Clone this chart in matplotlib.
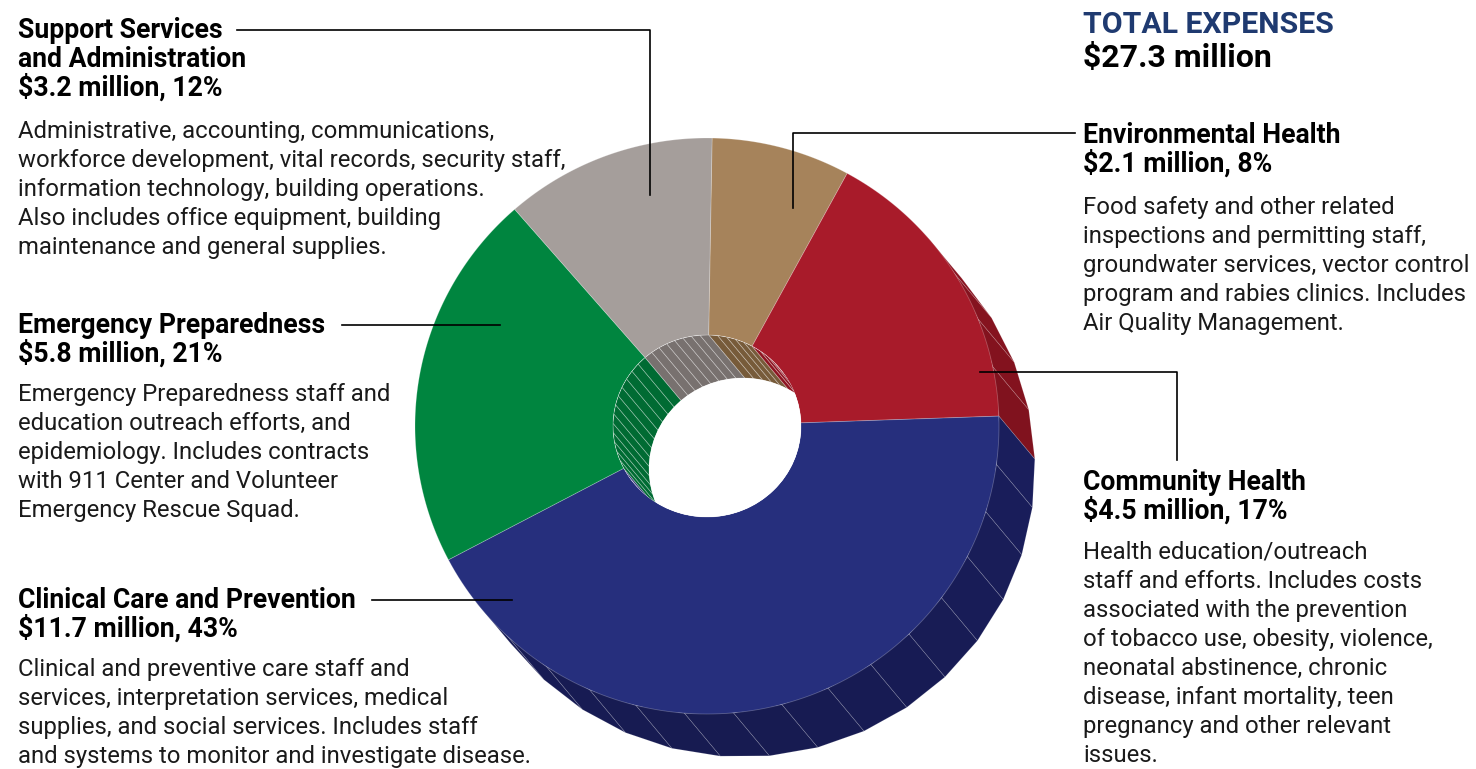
import numpy as np
import matplotlib.pyplot as plt
from matplotlib.patches import Polygon, Ellipse
from matplotlib.colors import to_rgb

# slice data, clockwise from the top
names = ['Environmental Health', 'Community Health', 'Clinical Care and Prevention',
         'Emergency Preparedness', 'Support Services and Administration']
millions = [2.1, 4.5, 11.7, 5.8, 3.2]
percents = [8, 17, 43, 21, 12]
top_colors = ['#A6835B', '#A81B2A', '#262F7D', '#00853F', '#A59E9B']
side_colors = ['#775B3A', '#8E1421', '#1D2268', '#006B33', '#78716F']

header_lines = {
    'support': ['Support Services', 'and Administration', '$3.2 million, 12%'],
    'emergency': ['Emergency Preparedness', '$5.8 million, 21%'],
    'clinical': ['Clinical Care and Prevention', '$11.7 million, 43%'],
    'environ': ['Environmental Health', '$2.1 million, 8%'],
    'community': ['Community Health', '$4.5 million, 17%'],
}
body_lines = {
    'support': ['Administrative, accounting, communications,',
                'workforce development, vital records, security staff,',
                'information technology, building operations.',
                'Also includes office equipment, building',
                'maintenance and general supplies.'],
    'emergency': ['Emergency Preparedness staff and',
                  'education outreach efforts, and',
                  'epidemiology. Includes contracts',
                  'with 911 Center and Volunteer',
                  'Emergency Rescue Squad.'],
    'clinical': ['Clinical and preventive care staff and',
                 'services, interpretation services, medical',
                 'supplies, and social services. Includes staff',
                 'and systems to monitor and investigate disease.'],
    'environ': ['Food safety and other related',
                'inspections and permitting staff,',
                'groundwater services, vector control',
                'program and rabies clinics. Includes',
                'Air Quality Management.'],
    'community': ['Health education/outreach',
                  'staff and efforts. Includes costs',
                  'associated with the prevention',
                  'of tobacco use, obesity, violence,',
                  'neonatal abstinence, chronic',
                  'disease, infant mortality, teen',
                  'pregnancy and other relevant',
                  'issues.'],
}
total_title = 'TOTAL EXPENSES'
total_value = '$27.3 million'

# donut geometry (pixel coordinates, y down)
CX, CY = 707, 426
RX, RY = 292, 288
HRX, HRY = 94, 91
OFF = np.array([36, 43])
START = 89

plt.rcParams['font.family'] = ['Roboto', 'DejaVu Sans']

fig = plt.figure(figsize=(14.76, 7.69), dpi=100)
ax = fig.add_axes([0, 0, 1, 1])
ax.set_xlim(0, 1476)
ax.set_ylim(769, 0)
ax.axis('off')


def pt(t, rx, ry, shift=(0, 0)):
    t = np.radians(t)
    return np.column_stack([CX + rx * np.cos(t) + shift[0], CY - ry * np.sin(t) + shift[1]])


def shade(c, f):
    r, g, b = to_rgb(c)
    return (r * f, g * f, b * f)


total = sum(millions)
bounds = [START]
for v in millions:
    bounds.append(bounds[-1] - 360 * v / total)

# outer wall facets
for i in range(len(millions)):
    a0, a1 = bounds[i], bounds[i + 1]
    n = max(2, int(abs(a0 - a1) / 10) + 1)
    ts = np.linspace(a0, a1, n + 1)
    for t0, t1 in zip(ts[:-1], ts[1:]):
        tm = np.radians((t0 + t1) / 2)
        if OFF[0] * np.cos(tm) / RX - OFF[1] * np.sin(tm) / RY <= 0:
            continue
        top = pt(np.array([t0, t1]), RX, RY)
        bot = top + OFF
        poly = np.vstack([top, bot[::-1]])
        depth = 0.78 + 0.22 * (np.sin(tm) + 1) / 2
        ax.add_patch(Polygon(poly, closed=True, fc=shade(side_colors[i], depth),
                             ec=(1, 1, 1, 0.15), lw=0.6, zorder=1))

# top faces
for i in range(len(millions)):
    a0, a1 = bounds[i], bounds[i + 1]
    ts = np.linspace(a0, a1, 120)
    poly = np.vstack([pt(ts, RX, RY), pt(ts[::-1], HRX, HRY)])
    ax.add_patch(Polygon(poly, closed=True, fc=top_colors[i],
                         ec=(1, 1, 1, 0.25), lw=0.6, zorder=2))

# inner wall seen through the hole
hole = Ellipse((CX, CY), 2 * HRX, 2 * HRY, fc='white', ec='none', zorder=3)
ax.add_patch(hole)
for i in range(len(millions)):
    a0, a1 = bounds[i], bounds[i + 1]
    n = max(2, int(abs(a0 - a1) / 6) + 1)
    ts = np.linspace(a0, a1, n + 1)
    for t0, t1 in zip(ts[:-1], ts[1:]):
        tm = np.radians((t0 + t1) / 2)
        if -OFF[0] * np.cos(tm) / HRX + OFF[1] * np.sin(tm) / HRY <= 0:
            continue
        top = pt(np.array([t0, t1]), HRX, HRY)
        bot = top + OFF
        poly = np.vstack([top, bot[::-1]])
        p = Polygon(poly, closed=True, fc=side_colors[i],
                    ec=(1, 1, 1, 0.3), lw=0.6, zorder=4)
        ax.add_patch(p)
        p.set_clip_path(hole)
through = Ellipse((CX + OFF[0], CY + OFF[1]), 2 * HRX, 2 * HRY, fc='white', ec='none', zorder=5)
ax.add_patch(through)
through.set_clip_path(hole)

# text blocks
HEAD_SIZE = 19.2
BODY_SIZE = 17.2
STEP = 29


def block(key, x, y_head, y_body):
    for k, line in enumerate(header_lines[key]):
        ax.text(x, y_head + k * STEP, line, fontsize=HEAD_SIZE, fontweight='bold',
                color='black', va='baseline', ha='left', zorder=6)
    for k, line in enumerate(body_lines[key]):
        ax.text(x, y_body + k * STEP, line, fontsize=BODY_SIZE, color='#1a1a1a',
                va='baseline', ha='left', zorder=6)


block('support', 18, 38, 138)
block('emergency', 18, 333, 401)
block('clinical', 18, 608, 676)
block('environ', 1083, 143, 214)
block('community', 1083, 490, 559)

ax.text(1083, 33, total_title, fontsize=21.8, fontweight='bold', color='#1F3A70', va='baseline')
ax.text(1083, 67, total_value, fontsize=23, fontweight='bold', color='black', va='baseline')

# leader lines
lk = dict(color='black', lw=1.2, zorder=7)
ax.plot([237, 650, 650], [30, 30, 195], **lk)
ax.plot([1075, 793, 793], [133, 133, 208], **lk)
ax.plot([1177, 1177, 980], [460, 372, 372], **lk)
ax.plot([342, 500], [325, 325], **lk)
ax.plot([372, 512], [600, 600], **lk)

fig.savefig('out.png', dpi=100)
